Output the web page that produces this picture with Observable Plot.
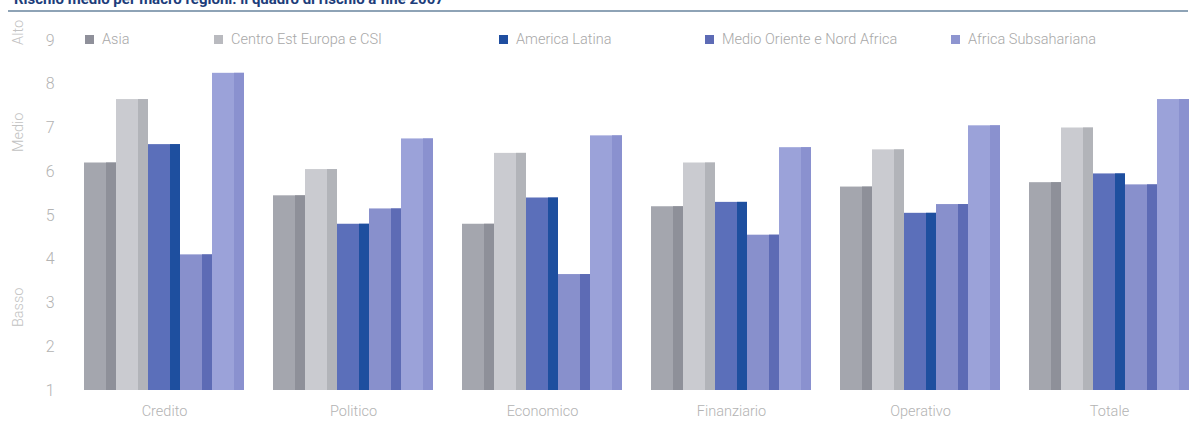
<!DOCTYPE html>
<html><head><meta charset="utf-8">
<script src="https://cdn.jsdelivr.net/npm/d3@7"></script>
<script src="https://cdn.jsdelivr.net/npm/@observablehq/plot@0.6"></script>
<style>
body{margin:0;background:#fff;font-family:Roboto,"Liberation Sans",sans-serif;}
#wrap{position:relative;width:1193px;height:421px;overflow:hidden;}
#title{position:relative;height:14px;}
#title .clip{position:absolute;left:0;top:0;height:7px;width:1193px;overflow:hidden;}
#title .clip span{position:absolute;left:14px;top:-10px;font-weight:700;font-size:15px;color:#1d3d7a;white-space:nowrap;}
#title .rule{position:absolute;left:8px;width:1180px;top:10px;height:2px;background:#8ea3b6;}
#legend{position:absolute;top:31px;left:0;width:1193px;height:18px;}
.item{position:absolute;top:0;display:flex;align-items:center;font-size:14.5px;color:#a8a8a8;font-weight:300;white-space:nowrap;}
.sw{width:9px;height:9px;margin-right:8px;}
</style></head><body>
<div id="wrap">
  <div id="title"><div class="clip"><span id="titleText"></span></div><div class="rule"></div></div>
  <div id="chart"></div>
  <div id="legend"></div>
</div>
<script>
// ---- data ----
const titleText = "Rischio medio per macro regioni: il quadro di rischio a fine 2007";
const categories = ["Credito","Politico","Economico","Finanziario","Operativo","Totale"];
const regions = ["Asia","Centro Est Europa e CSI","America Latina","Medio Oriente e Nord Africa","Africa Subsahariana"];
const asia          = [6.2, 5.45, 4.8, 5.2, 5.65, 5.75];
const centroEst     = [7.65, 6.05, 6.42, 6.2, 6.5, 7.0];
const americaLatina = [6.62, 4.8, 5.4, 5.3, 5.05, 5.95];
const medioOriente  = [4.1, 5.15, 3.65, 4.55, 5.25, 5.7];
const africaSub     = [8.25, 6.75, 6.82, 6.55, 7.05, 7.65];
const yTicks = [1,2,3,4,5,6,7,8,9];
const levelLabels = ["Basso","Medio","Alto"];
const levelValues = [2.45, 6.45, 8.9];

// ---- styling ----
const lightColors = ["#a4a6ae","#cacbd0","#5b6fba","#8890cc","#9ba2d9"];
const darkColors  = ["#8e9099","#b2b4b9","#1e4f9f","#5d6bb5","#8a91cf"];
const swatchColors = ["#8f909a","#b9babf","#1f4ea0","#5d6bb5","#8e95d0"];
const legendLeft = [85, 214, 499, 705, 951];

const series = [asia, centroEst, americaLatina, medioOriente, africaSub];
const data = categories.flatMap((c, i) => regions.map((r, j) => ({category: c, region: r, value: series[j][i]})));
const levels = levelLabels.map((l, i) => ({label: l, v: levelValues[i], cat: categories[0]}));

document.getElementById("titleText").textContent = titleText;

const chart = Plot.plot({
  width: 1193,
  height: 407,
  marginTop: 26,
  marginBottom: 31,
  marginLeft: 83,
  marginRight: 3,
  style: {fontFamily: "Roboto, 'Liberation Sans', sans-serif", fontWeight: 300, color: "#b3b3b3", background: "#fff"},
  fx: {domain: categories, paddingInner: 0.143, paddingOuter: 0, axis: null},
  x: {domain: regions, axis: null, padding: 0},
  y: {domain: [1, 9], axis: null},
  color: {domain: regions, range: lightColors},
  marks: [
    Plot.axisY({ticks: yTicks, tickSize: 0, tickPadding: 29, fontSize: 16, label: null, tickFormat: d => String(d)}),
    Plot.axisFx({anchor: "bottom", tickSize: 0, tickPadding: 15, fontSize: 14.5, label: null}),
    Plot.barY(data, {fx: "category", x: "region", y1: 1, y2: "value", fill: "region"}),
    ...regions.map((r, j) =>
      Plot.barY(data.filter(d => d.region === r), {fx: "category", x: "region", y1: 1, y2: "value", fill: darkColors[j], insetLeft: 22})
    ),
    Plot.text(levels, {fx: "cat", y: "v", text: "label", frameAnchor: "left", dx: -65, rotate: -90, fontSize: 14.5, fill: "#c2c2c2"})
  ]
});
document.getElementById("chart").appendChild(chart);

const legend = document.getElementById("legend");
regions.forEach((r, j) => {
  const it = document.createElement("div");
  it.className = "item";
  it.style.left = legendLeft[j] + "px";
  const sw = document.createElement("span");
  sw.className = "sw";
  sw.style.background = swatchColors[j];
  it.appendChild(sw);
  it.appendChild(document.createTextNode(r));
  legend.appendChild(it);
});
</script>
</body></html>
